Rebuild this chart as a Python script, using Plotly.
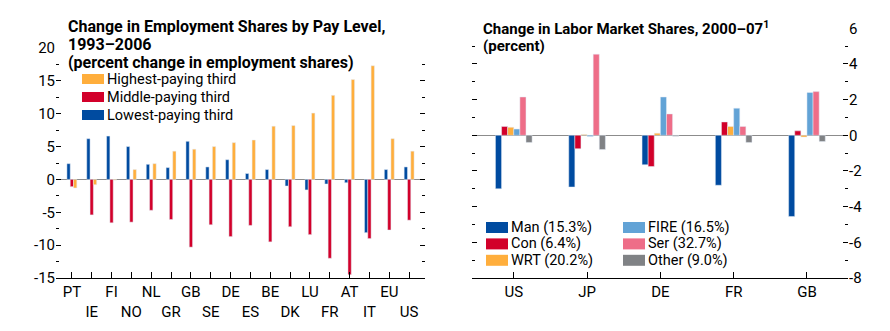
import plotly.graph_objects as go

# ---- Left panel: change in employment shares by pay level, 1993-2006 ----
countries = ["PT", "IE", "FI", "NO", "NL", "GR", "GB", "SE", "DE",
             "ES", "BE", "DK", "LU", "FR", "AT", "IT", "EU", "US"]
lowest = [2.4, 6.2, 6.6, 5.0, 2.3, 1.8, 5.8, 1.9, 3.0,
          0.9, 1.5, -1.0, -1.6, -0.7, -0.5, -8.1, 1.5, 1.9]
middle = [-1.1, -5.4, -6.6, -6.5, -4.7, -6.1, -10.3, -6.9, -8.7,
          -7.0, -9.5, -7.2, -8.4, -12.0, -14.5, -9.0, -7.7, -6.2]
highest = [-1.3, -0.8, -0.1, 1.5, 2.4, 4.3, 4.6, 5.0, 5.6,
           6.0, 8.1, 8.2, 10.1, 12.8, 15.2, 17.3, 6.2, 4.3]
left_ticks = [20, 15, 10, 5, 0, -5, -10, -15]

# ---- Right panel: change in labor market shares, 2000-07 ----
regions = ["US", "JP", "DE", "FR", "GB"]
man = [-3.0, -2.9, -1.65, -2.8, -4.55]
con = [0.5, -0.75, -1.75, 0.75, 0.25]
wrt = [0.45, 0.05, 0.12, 0.5, -0.1]
fire = [0.35, -0.07, 2.15, 1.52, 2.4]
ser = [2.15, 4.55, 1.2, 0.5, 2.45]
other = [-0.4, -0.8, -0.05, -0.4, -0.35]
right_ticks = [6, 4, 2, 0, -2, -4, -6, -8]

left_title = ["Change in Employment Shares by Pay Level,", "1993\u20132006",
              "(percent change in employment shares)"]
right_title = ["Change in Labor Market Shares, 2000\u201307<sup>1</sup>",
               "(percent)"]

BLUE = "#004BA0"
RED = "#D2002A"
ORANGE = "#FFAE3C"
LIGHTBLUE = "#62A3D6"
PINK = "#EE6D88"
GRAY = "#808285"

FONT = "Roboto, sans-serif"
W, H = 890, 331


def px_x(v):
    return v / W


def px_y(v):
    return (H - v) / H


pay_series = [("Lowest-paying third", lowest, BLUE),
              ("Middle-paying third", middle, RED),
              ("Highest-paying third", highest, ORANGE)]
sectors = [("Man (15.3%)", man, BLUE),
           ("Con (6.4%)", con, RED),
           ("WRT (20.2%)", wrt, ORANGE),
           ("FIRE (16.5%)", fire, LIGHTBLUE),
           ("Ser (32.7%)", ser, PINK),
           ("Other (9.0%)", other, GRAY)]

fig = go.Figure()

for name, vals, col in pay_series:
    fig.add_trace(go.Bar(x=countries, y=vals, name=name, marker_color=col,
                         showlegend=False, xaxis="x", yaxis="y"))
for name, vals, col in sectors:
    fig.add_trace(go.Bar(x=regions, y=vals, name=name, marker_color=col,
                         showlegend=False, xaxis="x2", yaxis="y2"))

tick_font = dict(family=FONT, size=15, color="black")
ytick_common = dict(ticks="inside", ticklen=5, tickcolor="black", tickwidth=1,
                    mirror="ticks", showgrid=False, showline=False,
                    zeroline=True, zerolinecolor="#8c8c8c", zerolinewidth=1,
                    tickfont=tick_font, automargin=False)
xtick_common = dict(type="category", ticks="inside", ticklen=6,
                    tickcolor="black", tickwidth=1, showline=True,
                    linecolor="black", linewidth=1.2, showgrid=False,
                    tickangle=0, tickfont=tick_font, automargin=False)

fig.update_layout(
    width=W, height=H,
    margin=dict(l=0, r=0, t=0, b=0),
    paper_bgcolor="white", plot_bgcolor="white",
    barmode="group", bargap=0.5, bargroupgap=0,
    showlegend=False,
    font=dict(family=FONT, color="black"),
    xaxis=dict(domain=[px_x(56), px_x(425)], anchor="y",
               range=[-0.8, 17.8], tickvals=countries,
               ticktext=[c if i % 2 == 0 else "<br>" + c
                         for i, c in enumerate(countries)],
               **xtick_common),
    yaxis=dict(domain=[px_y(278), px_y(48)], anchor="x", range=[-15, 20],
               tickvals=left_ticks, ticktext=[str(v) for v in left_ticks],
               minor=dict(dtick=2.5, ticks="inside", ticklen=3,
                          tickcolor="black"),
               **ytick_common),
    xaxis2=dict(domain=[px_x(472), px_x(848)], anchor="y2",
                range=[-0.57, 4.56], tickvals=regions, ticktext=regions,
                **xtick_common),
    yaxis2=dict(domain=[px_y(278), px_y(28.3)], anchor="x2", side="right",
                range=[-8, 6], tickvals=right_ticks,
                ticktext=[str(v) for v in right_ticks],
                minor=dict(dtick=1, ticks="inside", ticklen=3,
                           tickcolor="black"),
                **ytick_common),
)


def text_at(text, x, yc, size, bold=False):
    fig.add_annotation(text=f"<b>{text}</b>" if bold else text,
                       xref="paper", yref="paper", x=px_x(x), y=px_y(yc),
                       xanchor="left", yanchor="middle", showarrow=False,
                       font=dict(family=FONT, size=size, color="black"))


# Panel titles, one line at a time
for i, line in enumerate(left_title):
    text_at(line, 66, 27 + 17.6 * i, 16, bold=True)
for i, line in enumerate(right_title):
    text_at(line, 481, 28 + 17.6 * i, 15, bold=True)


# Legend keys: coloured swatch + label
def legend_entry(name, col, x, yc, sw=22, sh=10):
    fig.add_shape(type="rect", xref="paper", yref="paper",
                  x0=px_x(x), x1=px_x(x + sw),
                  y0=px_y(yc + sh / 2), y1=px_y(yc - sh / 2),
                  fillcolor=col, line=dict(width=0))
    text_at(name, x + sw + 1, yc, 14.5)


for i, (name, _, col) in enumerate(reversed(pay_series)):
    legend_entry(name, col, 82, 79 + 18 * i)

for i, (name, _, col) in enumerate(sectors):
    col_x = 486 if i < 3 else 623
    legend_entry(name, col, col_x, 227.5 + 16.4 * (i % 3), sh=11)

fig.write_html("out.html")
